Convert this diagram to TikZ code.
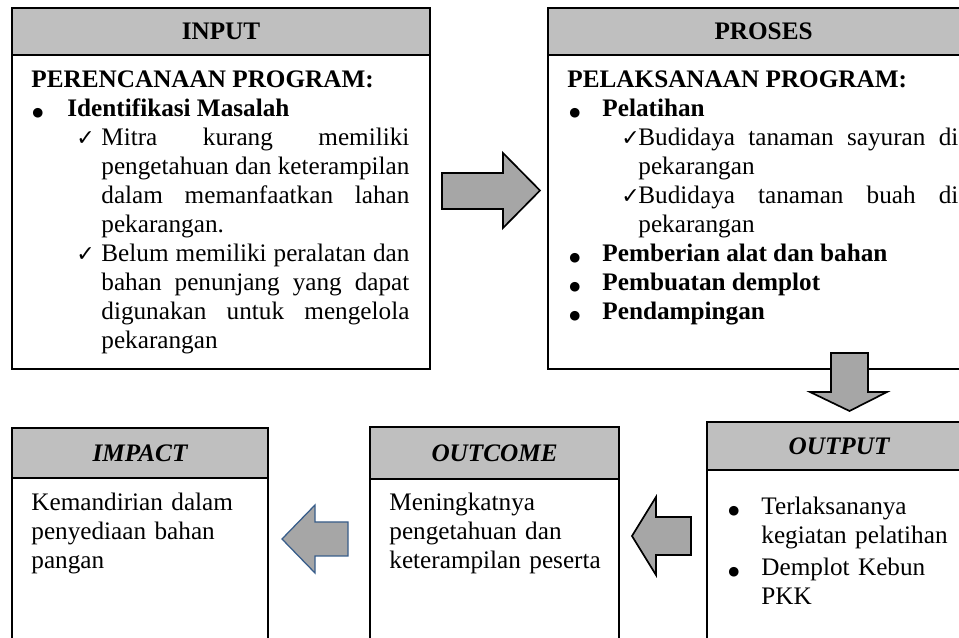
\documentclass[tikz,border=0pt]{standalone}
\usepackage{fontspec}
\setmainfont{Liberation Serif}
\newfontfamily\symfont{DejaVu Sans}
\definecolor{headgray}{HTML}{BFBFBF}
\definecolor{arrowgray}{HTML}{A6A6A6}
\definecolor{arrowblue}{HTML}{385D8A}
\newlength\px \setlength\px{0.476pt}
\hyphenpenalty=10000 \exhyphenpenalty=10000 \tolerance=10000 \hbadness=10000
\newcommand\chkmark{{\symfont\fontsize{10.5pt}{13.8pt}\selectfont ✓}}
\newcommand\dotmark{{\symfont\fontsize{6pt}{13.8pt}\selectfont ●}}
% list line with hanging text: #1 text indent, #2 mark indent, #3 mark
\newcommand\mitem[3]{\par\noindent\hangindent=#1\px\hangafter=1\makebox[#1\px][l]{\hspace*{#2\px}#3}\ignorespaces}
\tikzset{headbox/.style={draw,line width=1pt,fill=headgray,anchor=north west,inner sep=0pt,
                         font=\fontsize{12pt}{13.8pt}\selectfont\bfseries},
         bodybox/.style={draw,line width=1pt,anchor=north west,inner sep=0pt},
         bodytext/.style={anchor=north west,inner sep=0pt,align=justify,
                          font=\fontsize{12pt}{13.8pt}\selectfont},
         blockarrow/.style={draw,line width=0.8pt,fill=arrowgray}}
\begin{document}
\begin{tikzpicture}[x=0.476pt,y=-0.476pt]
        \useasboundingbox (0,0) rectangle (959,638);
        \clip (0,0) rectangle (959,638);

        % upper row
        \node[bodybox,minimum width=198.97pt,minimum height=149.46pt] (inbody) at (11,54) {};
        \node[headbox,minimum width=198.97pt,minimum height=22.37pt] (inhead) at (11,7) {INPUT};
        \node[bodybox,minimum width=205.16pt,minimum height=149.46pt] (prbody) at (547,54) {};
        \node[headbox,minimum width=205.16pt,minimum height=22.37pt] (prhead) at (547,7) {PROSES};

        % lower row
        \node[bodybox,minimum width=121.86pt,minimum height=120pt] (imbody) at (11,477) {};
        \node[headbox,minimum width=121.86pt,minimum height=23.80pt] (imhead) at (11,427) {\itshape IMPACT};
        \node[bodybox,minimum width=118.52pt,minimum height=120pt] (ocbody) at (369,478) {};
        \node[headbox,minimum width=118.52pt,minimum height=24.75pt] (ochead) at (369,426) {\itshape OUTCOME};
        \node[bodybox,minimum width=125.66pt,minimum height=120pt] (otbody) at (706,469) {};
        \node[headbox,minimum width=125.66pt,minimum height=22.85pt] (othead) at (706,421) {\itshape OUTPUT};

        \node[bodytext,text width=179.93pt] (intext) at (31,66.7) {\strut\textbf{PERENCANAAN PROGRAM:}
          \mitem{36}{1}{\dotmark}\textbf{Identifikasi Masalah}
          \mitem{70}{45}{\chkmark}Mitra kurang memiliki\linebreak pengetahuan dan keterampilan\linebreak dalam memanfaatkan lahan\linebreak pekarangan.
          \mitem{70}{45}{\chkmark}Belum memiliki peralatan dan\linebreak bahan penunjang yang dapat\linebreak digunakan untuk mengelola\linebreak pekarangan\par};
        \node[bodytext,text width=186.12pt] (prtext) at (567,66.7) {\strut\textbf{PELAKSANAAN PROGRAM:}
          \mitem{35}{2}{\dotmark}\textbf{Pelatihan}
          \mitem{71}{54}{\chkmark}Budidaya tanaman sayuran di\linebreak pekarangan
          \mitem{71}{54}{\chkmark}Budidaya tanaman buah di\linebreak pekarangan
          \mitem{35}{2}{\dotmark}\textbf{Pemberian alat dan bahan}
          \mitem{35}{2}{\dotmark}\textbf{Pembuatan demplot}
          \mitem{35}{2}{\dotmark}\textbf{Pendampingan}\par};
        \node[bodytext,text width=109.48pt,align=left] (ottext) at (727,482.7) {\parskip=1.2pt
          \mitem{34}{1}{\dotmark}\strut Terlaksananya\newline kegiatan pelatihan
          \mitem{34}{1}{\dotmark}Demplot Kebun\newline PKK\par};
        \node[bodytext,text width=110pt,align=left] (octext) at (389,489.7) {\strut Meningkatnya\\ pengetahuan dan\\ keterampilan peserta};
        \node[bodytext,text width=110pt,align=left] (imtext) at (31,489.7) {\strut Kemandirian dalam\\ penyediaan bahan\\ pangan};

        % block arrows
        \draw[blockarrow] (442,173) -- (503,173) -- (503,153) -- (540,190.5) -- (503,228) -- (503,209) -- (442,209) -- cycle;
        \draw[blockarrow] (831,353) -- (868,353) -- (868,392) -- (887,392) -- (849.5,411) -- (810,392) -- (831,392) -- cycle;
        \draw[blockarrow] (691,517) -- (656,517) -- (656,497) -- (632,536) -- (656,575) -- (656,555) -- (691,555) -- cycle;
        \draw[blockarrow,draw=arrowblue,line width=0.6pt] (348,522) -- (315,522) -- (315,505) -- (282,539) -- (315,573) -- (315,556) -- (348,556) -- cycle;

\end{tikzpicture}
\end{document}
